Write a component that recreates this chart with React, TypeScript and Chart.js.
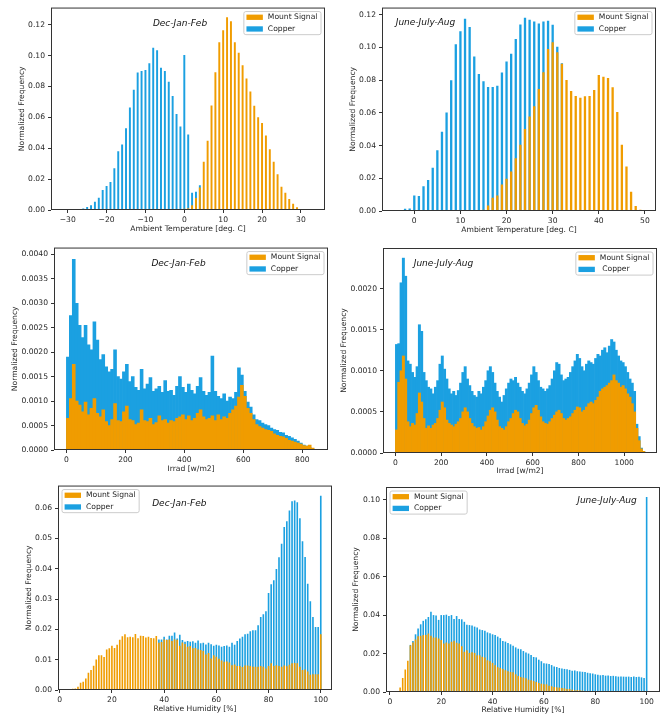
import React, { useEffect, useRef } from "react";
import { Chart, registerables } from "chart.js";

Chart.register(...registerables);

// ---------- colours & text ----------
const MOUNT_COLOR = "#f09c00";
const COPPER_COLOR = "#1ba0e1";
const TEXT_COLOR = "#262626";
const FONT_FAMILY = "'DejaVu Sans', sans-serif";
const FONT_SIZE = 7.6;

// ---------- Ambient temperature, Dec-Jan-Feb (1 deg bins) ----------
const TEMP_DJF_COPPER_START = -30;
const TEMP_DJF_COPPER = [
  0.0001, 0.0001, 0.0002, 0.0005, 0.0009, 0.0019, 0.003, 0.0054, 0.008, 0.0129,
  0.0155, 0.0182, 0.027, 0.038, 0.0424, 0.0529, 0.0664, 0.0778, 0.089, 0.09,
  0.0907, 0.095, 0.105, 0.1035, 0.0922, 0.09, 0.083, 0.0738, 0.0622, 0.054,
  0.1003, 0.0489, 0.0111, 0.0118, 0.0161,
];
const TEMP_DJF_MOUNT_START = 0;
const TEMP_DJF_MOUNT = [
  0.0008, 0.0012, 0.003, 0.0078, 0.0146, 0.0313, 0.0448, 0.0677, 0.0892, 0.1087,
  0.1164, 0.1248, 0.1222, 0.1087, 0.1018, 0.0937, 0.0851, 0.0767, 0.0675, 0.06,
  0.0564, 0.0483, 0.0393, 0.0312, 0.0231, 0.0151, 0.0112, 0.0071, 0.0041, 0.0017,
  0.0004, 0.0001,
];

// ---------- Ambient temperature, June-July-Aug ----------
const TEMP_JJA_COPPER_START = -2;
const TEMP_JJA_COPPER = [
  0.0014, 0.0016,
  0.0095, 0.0091, 0.0152, 0.019, 0.0264, 0.0371, 0.0484, 0.0602, 0.0799, 0.102,
  0.1099, 0.1176, 0.1125, 0.0945, 0.0837, 0.0793, 0.0758, 0.0758, 0.0766, 0.0847,
  0.0914, 0.0961, 0.1052, 0.1141, 0.1182, 0.117, 0.1159, 0.1147, 0.1159, 0.1163,
  0.1139, 0.1005, 0.0904,
];
const TEMP_JJA_MOUNT_START = 12;
const TEMP_JJA_MOUNT = [
  0.0001, 0.0002, 0.0004, 0.0008, 0.0034, 0.0081, 0.0095, 0.0162,
  0.0197, 0.0241, 0.0322, 0.0405, 0.0501, 0.0578, 0.0641, 0.0746, 0.0849, 0.0991,
  0.1032, 0.0971, 0.09, 0.0801, 0.0734, 0.0703, 0.0693, 0.0701, 0.0703, 0.074,
  0.0831, 0.0821, 0.0813, 0.0756, 0.0606, 0.0405, 0.0272, 0.0118, 0.003, 0.0008,
];

// ---------- Irradiance (10 W/m2 bins, first bin centred on 5) ----------
const IRRAD_BIN_START = 5;
const IRRAD_BIN_WIDTH = 10;
const IRRAD_DJF_COPPER = [
  0.0019, 0.00275, 0.0039, 0.003, 0.00255, 0.0023, 0.00255, 0.00215, 0.00205, 0.00262,
  0.00225, 0.00185, 0.00195, 0.0017, 0.0016, 0.00165, 0.00205, 0.0015, 0.00145, 0.0016,
  0.00175, 0.0014, 0.0015, 0.00128, 0.00122, 0.00165, 0.00125, 0.00135, 0.00148, 0.0012,
  0.00125, 0.0013, 0.00118, 0.00142, 0.0012, 0.00122, 0.00112, 0.0013, 0.0015, 0.00128,
  0.00118, 0.00135, 0.00122, 0.00115, 0.0013, 0.00148, 0.0012, 0.00112, 0.00118, 0.00192,
  0.0012, 0.0011, 0.00105, 0.00115, 0.001, 0.00108, 0.00105, 0.00118, 0.00168, 0.00153,
  0.0012, 0.00098, 0.00088, 0.00072, 0.00062, 0.0006, 0.00055, 0.00052, 0.0005, 0.00045,
  0.00042, 0.0004, 0.00036, 0.00035, 0.0003, 0.00028, 0.00025, 0.00022, 0.00018, 0.00014,
  0.0001, 0.00008, 0.00005, 0.00002,
];
const IRRAD_DJF_MOUNT = [
  0.00065, 0.00105, 0.00175, 0.001, 0.00092, 0.00078, 0.00098, 0.00072, 0.00085, 0.00105,
  0.00075, 0.00068, 0.00082, 0.00058, 0.0005, 0.00062, 0.00095, 0.0006, 0.00058, 0.00078,
  0.0009, 0.00062, 0.0006, 0.00052, 0.00055, 0.00082, 0.0006, 0.00058, 0.00065, 0.00052,
  0.00056, 0.0007, 0.0006, 0.00062, 0.00055, 0.0006, 0.00058, 0.00065, 0.00068, 0.00072,
  0.00062, 0.0007, 0.0006, 0.00065, 0.00075, 0.00082, 0.00068, 0.00062, 0.00065, 0.0007,
  0.0006, 0.00072, 0.00062, 0.00068, 0.00065, 0.00075, 0.00082, 0.0009, 0.00108, 0.00132,
  0.0011, 0.00085, 0.00075, 0.00062, 0.00052, 0.00048, 0.00045, 0.00042, 0.0004, 0.00038,
  0.00033, 0.0003, 0.00028, 0.00027, 0.00024, 0.0002, 0.00018, 0.00016, 0.00014, 0.00012,
  0.00009, 0.00008, 0.0001, 0.00004,
];
const IRRAD_JJA_COPPER = [
  0.00132, 0.00133, 0.00207, 0.00237, 0.00215, 0.00112, 0.00108, 0.00098, 0.00092, 0.00105,
  0.00156, 0.00148, 0.00098, 0.00088, 0.0008, 0.00078, 0.00072, 0.0008, 0.00088, 0.00108,
  0.00118, 0.00102, 0.0009, 0.00078, 0.00072, 0.00075, 0.0007, 0.00076, 0.00085, 0.00098,
  0.00105, 0.0009, 0.00082, 0.00075, 0.0007, 0.00068, 0.00075, 0.00072, 0.0008, 0.00088,
  0.001, 0.00105, 0.00098, 0.00085, 0.00075, 0.00068, 0.00062, 0.0007, 0.00078, 0.00085,
  0.0009, 0.00088, 0.00092, 0.00085, 0.0008, 0.00075, 0.00072, 0.00078, 0.00085, 0.00095,
  0.00105, 0.00098, 0.00088, 0.0008, 0.00078, 0.00075, 0.00078, 0.00082, 0.0009, 0.001,
  0.0011, 0.00108, 0.00095, 0.00088, 0.0009, 0.00092, 0.00098, 0.00105, 0.00112, 0.0012,
  0.00115, 0.00105, 0.001, 0.00108, 0.00112, 0.0011, 0.00108, 0.00115, 0.0012, 0.00118,
  0.00125, 0.00128, 0.00122, 0.0013, 0.00138, 0.00135, 0.00125, 0.00118, 0.00112, 0.0011,
  0.00105, 0.00098, 0.0009, 0.00085, 0.00075, 0.00035, 0.0002, 0.00006, 0.00002,
];
const IRRAD_JJA_MOUNT = [
  0.00028, 0.00086, 0.001, 0.00118, 0.0009, 0.00038, 0.00032, 0.00036, 0.00034, 0.00048,
  0.00073, 0.00062, 0.00042, 0.0003, 0.00033, 0.0003, 0.00034, 0.00036, 0.00042, 0.00052,
  0.00062, 0.00055, 0.0004, 0.00036, 0.00034, 0.00032, 0.00035, 0.00038, 0.00042, 0.0005,
  0.00055, 0.0005, 0.00042, 0.00036, 0.00032, 0.0003, 0.00031, 0.00028, 0.00032, 0.00038,
  0.00045, 0.00052, 0.00055, 0.0005, 0.0004, 0.00032, 0.0003, 0.00028, 0.00032, 0.00038,
  0.00042, 0.00048, 0.00052, 0.0005, 0.00042, 0.00036, 0.00033, 0.00035, 0.0004, 0.00048,
  0.00055, 0.00058, 0.00052, 0.00044, 0.00038, 0.00036, 0.00035, 0.00038, 0.00042, 0.00046,
  0.0005, 0.00052, 0.00048, 0.00042, 0.0004, 0.00042, 0.00044, 0.00048, 0.00052, 0.00056,
  0.00055, 0.0005, 0.00052, 0.00056, 0.0006, 0.00062, 0.0006, 0.00064, 0.00068, 0.00075,
  0.00078, 0.0008, 0.00082, 0.00085, 0.00088, 0.00095, 0.00088, 0.00085, 0.0008, 0.00082,
  0.00078, 0.00072, 0.00068, 0.0006, 0.0005, 0.0003, 0.00015, 0.00005, 0.00002,
];

// ---------- Relative humidity, Dec-Jan-Feb (1 % bins) ----------
const RH_DJF_MOUNT_START = 5;
const RH_DJF_MOUNT = [
  0.0004, 0.0005, 0.0011, 0.0024, 0.0027, 0.0038, 0.0057, 0.0066, 0.008, 0.0101,
  0.0115, 0.0115, 0.0109, 0.0134, 0.0138, 0.0146, 0.0139, 0.0149, 0.0166, 0.0177,
  0.0184, 0.0174, 0.0176, 0.0174, 0.0185, 0.0171, 0.0179, 0.0178, 0.0173, 0.0176,
  0.0172, 0.0171, 0.0178, 0.0156, 0.0158, 0.0167, 0.0165, 0.0167, 0.0162, 0.0167,
  0.0166, 0.0146, 0.0157, 0.0152, 0.0143, 0.0145, 0.0138, 0.0139, 0.0134, 0.0132,
  0.0129, 0.0117, 0.0122, 0.0104, 0.0115, 0.011, 0.0103, 0.0097, 0.0093, 0.0094,
  0.0091, 0.0082, 0.0084, 0.0079, 0.0079, 0.0076, 0.0081, 0.0081, 0.0079, 0.0077,
  0.0077, 0.0077, 0.0079, 0.0077, 0.0071, 0.0079, 0.0088, 0.0079, 0.0082, 0.0079,
  0.0077, 0.0081, 0.0078, 0.0083, 0.0088, 0.0089, 0.0088, 0.0077, 0.0066, 0.0068,
  0.0061, 0.005, 0.0052, 0.0052, 0.0052, 0.0184,
];
const RH_DJF_COPPER_START = 38;
const RH_DJF_COPPER = [
  0.0167, 0.0167, 0.0176, 0.0167, 0.0179, 0.0179, 0.019, 0.017, 0.0182, 0.0165,
  0.0159, 0.0162, 0.0159, 0.0161, 0.0156, 0.0163, 0.0154, 0.0156, 0.015, 0.0156,
  0.0151, 0.0146, 0.0149, 0.0147, 0.0143, 0.0145, 0.0147, 0.0143, 0.0156, 0.0149,
  0.0162, 0.017, 0.0176, 0.0184, 0.0186, 0.0194, 0.0197, 0.0197, 0.0214, 0.0241,
  0.025, 0.026, 0.032, 0.0349, 0.0362, 0.0399, 0.0438, 0.0483, 0.0538, 0.0557,
  0.0592, 0.0623, 0.0625, 0.062, 0.0567, 0.0491, 0.0439, 0.0351, 0.0293, 0.0241,
  0.0208, 0.0208, 0.0641,
];

// ---------- Relative humidity, June-July-Aug ----------
const RH_JJA_MOUNT_START = 4;
const RH_JJA_MOUNT = [
  0.0024, 0.0073, 0.0117, 0.0163, 0.0242, 0.0257, 0.0273, 0.029, 0.0292, 0.0296,
  0.0297, 0.0304, 0.0292, 0.0283, 0.0283, 0.0278, 0.027, 0.0252, 0.0257, 0.0252,
  0.0261, 0.0266, 0.0256, 0.0252, 0.0238, 0.0209, 0.0217, 0.0203, 0.0207, 0.0203,
  0.0191, 0.0191, 0.0183, 0.0179, 0.0165, 0.016, 0.0151, 0.0139, 0.0129, 0.0125,
  0.012, 0.0113, 0.0108, 0.0104, 0.0103, 0.0092, 0.0083, 0.0078, 0.0075, 0.0071,
  0.0064, 0.0061, 0.0057, 0.0052, 0.0047, 0.0043, 0.004, 0.004, 0.0033, 0.003,
  0.0026, 0.0024, 0.0023, 0.0021, 0.0019, 0.0016, 0.0016, 0.0012, 0.0009, 0.001,
  0.0009, 0.0007, 0.0005, 0.0005, 0.0003, 0.0003, 0.0002, 0.0002, 0.0001, 0.0001,
  0.0001, 0.0001,
];
const RH_JJA_COPPER_START = 8;
const RH_JJA_COPPER = [
  0.0245, 0.0265, 0.03, 0.033, 0.0352, 0.037, 0.0378, 0.039, 0.0417, 0.04,
  0.0398, 0.0375, 0.04, 0.04, 0.0402, 0.0395, 0.04, 0.038, 0.0395, 0.038,
  0.0378, 0.0365, 0.035, 0.0348, 0.0346, 0.034, 0.0335, 0.0325, 0.0322, 0.0318,
  0.031, 0.0305, 0.03, 0.0296, 0.0288, 0.028, 0.0265, 0.0262, 0.0255, 0.0248,
  0.024, 0.0232, 0.0225, 0.0222, 0.0213, 0.0205, 0.02, 0.0192, 0.0182, 0.018,
  0.0168, 0.016, 0.015, 0.0148, 0.0145, 0.014, 0.0132, 0.013, 0.0125, 0.0122,
  0.012, 0.0118, 0.0115, 0.011, 0.0112, 0.0108, 0.0106, 0.0105, 0.0104, 0.01,
  0.0098, 0.0096, 0.0092, 0.009, 0.0087, 0.0088, 0.0085, 0.0086, 0.0083, 0.0084,
  0.0082, 0.008, 0.0081, 0.008, 0.0079, 0.008, 0.0078, 0.008, 0.0078, 0.0079,
  0.0076, 0.0073, 0.1014,
];

// ---------- ticks ----------
const TEMP_DJF_X_TICKS = [-30, -20, -10, 0, 10, 20, 30];
const TEMP_JJA_X_TICKS = [0, 10, 20, 30, 40, 50];
const IRRAD_DJF_X_TICKS = [0, 200, 400, 600, 800];
const IRRAD_JJA_X_TICKS = [0, 200, 400, 600, 800, 1000];
const RH_X_TICKS = [0, 20, 40, 60, 80, 100];
const TEMP_Y_TICKS = [0, 0.02, 0.04, 0.06, 0.08, 0.1, 0.12];
const IRRAD_DJF_Y_TICKS = [0, 0.0005, 0.001, 0.0015, 0.002, 0.0025, 0.003, 0.0035, 0.004];
const IRRAD_JJA_Y_TICKS = [0, 0.0005, 0.001, 0.0015, 0.002];
const RH_DJF_Y_TICKS = [0, 0.01, 0.02, 0.03, 0.04, 0.05, 0.06];
const RH_JJA_Y_TICKS = [0, 0.02, 0.04, 0.06, 0.08, 0.1];

type Pt = { x: number; y: number };
const binned = (start: number, step: number, values: number[]): Pt[] =>
  values.map((y, i) => ({ x: start + i * step, y }));

interface PanelSpec {
  key: string;
  cell: [number, number, number, number];
  area: [number, number, number, number];
  xRange: [number, number];
  yMax: number;
  xTicks: number[];
  yTicks: number[];
  yDecimals: number;
  xTitle: string;
  yTitleX: number;
  xTitleY: number;
  season: string;
  seasonAt: [number, number];
  legendSide: "left" | "right";
  copperLabel: string;
  mount: Pt[];
  copper: Pt[];
  barFill: number;
}

const PANELS: PanelSpec[] = [
  {
    key: "temp-djf",
    cell: [0, 0, 333, 240],
    area: [51, 6, 325, 210],
    xRange: [-34.3, 36.2],
    yMax: 0.1311,
    xTicks: TEMP_DJF_X_TICKS,
    yTicks: TEMP_Y_TICKS,
    yDecimals: 2,
    xTitle: "Ambient Temperature [deg. C]",
    yTitleX: 22,
    xTitleY: 229,
    season: "Dec-Jan-Feb",
    seasonAt: [129, 16],
    legendSide: "right",
    copperLabel: "Copper",
    mount: binned(TEMP_DJF_MOUNT_START, 1, TEMP_DJF_MOUNT),
    copper: binned(TEMP_DJF_COPPER_START, 1, TEMP_DJF_COPPER),
    barFill: 0.5,
  },
  {
    key: "temp-jja",
    cell: [333, 0, 334, 240],
    area: [382, 6, 656, 211],
    xRange: [-7.0, 52.4],
    yMax: 0.1244,
    xTicks: TEMP_JJA_X_TICKS,
    yTicks: TEMP_Y_TICKS,
    yDecimals: 2,
    xTitle: "Ambient Temperature [deg. C]",
    yTitleX: 353,
    xTitleY: 230,
    season: "June-July-Aug",
    seasonAt: [43.5, 14.7],
    legendSide: "right",
    copperLabel: "Copper",
    mount: binned(TEMP_JJA_MOUNT_START, 1, TEMP_JJA_MOUNT),
    copper: binned(TEMP_JJA_COPPER_START, 1, TEMP_JJA_COPPER),
    barFill: 0.5,
  },
  {
    key: "irrad-djf",
    cell: [0, 240, 333, 238],
    area: [54, 245, 328, 450],
    xRange: [-42, 887],
    yMax: 0.00414,
    xTicks: IRRAD_DJF_X_TICKS,
    yTicks: IRRAD_DJF_Y_TICKS,
    yDecimals: 4,
    xTitle: "Irrad [w/m2]",
    yTitleX: 15,
    xTitleY: 469,
    season: "Dec-Jan-Feb",
    seasonAt: [124.5, 16],
    legendSide: "right",
    copperLabel: "Copper",
    mount: binned(IRRAD_BIN_START, IRRAD_BIN_WIDTH, IRRAD_DJF_MOUNT),
    copper: binned(IRRAD_BIN_START, IRRAD_BIN_WIDTH, IRRAD_DJF_COPPER),
    barFill: 1,
  },
  {
    key: "irrad-jja",
    cell: [333, 240, 334, 238],
    area: [383, 248, 657, 453],
    xRange: [-54, 1143],
    yMax: 0.002493,
    xTicks: IRRAD_JJA_X_TICKS,
    yTicks: IRRAD_JJA_Y_TICKS,
    yDecimals: 4,
    xTitle: "Irrad [w/m2]",
    yTitleX: 344,
    xTitleY: 471,
    season: "June-July-Aug",
    seasonAt: [60.5, 15.3],
    legendSide: "right",
    copperLabel: " Copper",
    mount: binned(IRRAD_BIN_START, IRRAD_BIN_WIDTH, IRRAD_JJA_MOUNT),
    copper: binned(IRRAD_BIN_START, IRRAD_BIN_WIDTH, IRRAD_JJA_COPPER),
    barFill: 1,
  },
  {
    key: "rh-djf",
    cell: [0, 478, 333, 240],
    area: [58, 485, 332, 690],
    xRange: [-0.65, 104.3],
    yMax: 0.06747,
    xTicks: RH_X_TICKS,
    yTicks: RH_DJF_Y_TICKS,
    yDecimals: 2,
    xTitle: "Relative Humidity [%]",
    yTitleX: 29,
    xTitleY: 709,
    season: "Dec-Jan-Feb",
    seasonAt: [121.3, 17.7],
    legendSide: "left",
    copperLabel: "Copper",
    mount: binned(RH_DJF_MOUNT_START, 1, RH_DJF_MOUNT),
    copper: binned(RH_DJF_COPPER_START, 1, RH_DJF_COPPER),
    barFill: 0.62,
  },
  {
    key: "rh-jja",
    cell: [333, 478, 334, 240],
    area: [386, 487, 660, 692],
    xRange: [-1.5, 105.2],
    yMax: 0.1066,
    xTicks: RH_X_TICKS,
    yTicks: RH_JJA_Y_TICKS,
    yDecimals: 2,
    xTitle: "Relative Humidity [%]",
    yTitleX: 356,
    xTitleY: 710,
    season: "June-July-Aug",
    seasonAt: [221, 14],
    legendSide: "left",
    copperLabel: "Copper",
    mount: binned(RH_JJA_MOUNT_START, 1, RH_JJA_MOUNT),
    copper: binned(RH_JJA_COPPER_START, 1, RH_JJA_COPPER),
    barFill: 0.62,
  },
];

// Axes frame, season caption and a boxed legend drawn inside the plot area.
function decorations(p: PanelSpec) {
  return {
    id: "decorations",
    afterDatasetsDraw(chart: any) {
      const { ctx, chartArea: a } = chart;
      ctx.save();

      ctx.strokeStyle = "#333333";
      ctx.lineWidth = 1;
      ctx.strokeRect(a.left + 0.5, a.top + 0.5, a.right - a.left - 1, a.bottom - a.top - 1);

      ctx.fillStyle = "#111111";
      ctx.font = `italic 9px ${FONT_FAMILY}`;
      ctx.textAlign = "center";
      ctx.textBaseline = "middle";
      ctx.fillText(p.season, a.left + p.seasonAt[0], a.top + p.seasonAt[1]);

      const entries = [
        { label: "Mount Signal", color: MOUNT_COLOR },
        { label: p.copperLabel, color: COPPER_COLOR },
      ];
      ctx.font = `${FONT_SIZE}px ${FONT_FAMILY}`;
      const textW = Math.max(...entries.map((e) => ctx.measureText(e.label).width));
      const pad = 2.6;
      const handleLen = 16.4;
      const handleGap = 5;
      const rowH = 6.2;
      const rowGap = 5.5;
      const boxW = pad + handleLen + handleGap + textW + pad + 1;
      const boxH = pad * 2 + rowH * 2 + rowGap;
      const inset = 4;
      const bx = p.legendSide === "right" ? a.right - inset - boxW : a.left + inset;
      const by = a.top + inset;

      ctx.beginPath();
      const r = 2;
      ctx.moveTo(bx + r, by);
      ctx.lineTo(bx + boxW - r, by);
      ctx.arcTo(bx + boxW, by, bx + boxW, by + r, r);
      ctx.lineTo(bx + boxW, by + boxH - r);
      ctx.arcTo(bx + boxW, by + boxH, bx + boxW - r, by + boxH, r);
      ctx.lineTo(bx + r, by + boxH);
      ctx.arcTo(bx, by + boxH, bx, by + boxH - r, r);
      ctx.lineTo(bx, by + r);
      ctx.arcTo(bx, by, bx + r, by, r);
      ctx.closePath();
      ctx.fillStyle = "rgba(255,255,255,0.8)";
      ctx.fill();
      ctx.strokeStyle = "#cccccc";
      ctx.stroke();

      entries.forEach((e, i) => {
        const cy = by + pad + rowH / 2 + i * (rowH + rowGap);
        ctx.fillStyle = e.color;
        ctx.fillRect(bx + pad, cy - 2.65, handleLen, 5.3);
        ctx.fillStyle = TEXT_COLOR;
        ctx.textAlign = "left";
        ctx.textBaseline = "middle";
        ctx.fillText(e.label, bx + pad + handleLen + handleGap, cy);
      });

      ctx.restore();
    },
  };
}

function buildConfig(p: PanelSpec) {
  const [cx, cy, cw, ch] = p.cell;
  const [L, T, R, B] = p.area;
  const lineH = FONT_SIZE * 1.2;
  const yAxisWidth = L - cx;
  const xAxisHeight = p.xTitleY + lineH / 2 + 1 - B;
  const font = { family: FONT_FAMILY, size: FONT_SIZE };
  const tickGrid = {
    display: true,
    drawOnChartArea: false,
    drawTicks: true,
    tickLength: 3,
    tickColor: "#333333",
    offset: false,
  };
  const barOpts = {
    grouped: false,
    barPercentage: p.barFill,
    categoryPercentage: 1,
    borderWidth: 0,
  };

  return {
    type: "bar",
    data: {
      datasets: [
        { label: "Mount Signal", data: p.mount, backgroundColor: MOUNT_COLOR, ...barOpts },
        { label: p.copperLabel, data: p.copper, backgroundColor: COPPER_COLOR, ...barOpts },
      ],
    },
    options: {
      responsive: false,
      animation: false,
      devicePixelRatio: 1,
      events: [],
      layout: {
        padding: {
          left: 0,
          top: T - cy,
          right: cx + cw - R,
          bottom: Math.max(0, cy + ch - B - xAxisHeight),
        },
      },
      plugins: {
        legend: { display: false },
        tooltip: { enabled: false },
        title: { display: false },
      },
      scales: {
        x: {
          type: "linear",
          min: p.xRange[0],
          max: p.xRange[1],
          offset: false,
          grid: tickGrid,
          border: { display: false },
          ticks: {
            autoSkip: false,
            maxRotation: 0,
            minRotation: 0,
            padding: 2,
            color: TEXT_COLOR,
            font,
            callback: (v: any) => {
              const n = Number(v);
              return n < 0 ? "\u2212" + Math.abs(n) : String(n);
            },
          },
          afterBuildTicks: (s: any) => {
            s.ticks = p.xTicks.map((value) => ({ value }));
          },
          afterFit: (s: any) => {
            s.height = xAxisHeight;
          },
          title: {
            display: true,
            text: p.xTitle,
            color: TEXT_COLOR,
            font,
            padding: { top: 0, bottom: 1 },
          },
        },
        y: {
          type: "linear",
          min: 0,
          max: p.yMax,
          grid: tickGrid,
          border: { display: false },
          ticks: {
            autoSkip: false,
            padding: 3,
            color: TEXT_COLOR,
            font,
            callback: (v: any) => Number(v).toFixed(p.yDecimals),
          },
          afterBuildTicks: (s: any) => {
            s.ticks = p.yTicks.map((value) => ({ value }));
          },
          afterFit: (s: any) => {
            s.width = yAxisWidth;
          },
          title: {
            display: true,
            text: "Normalized Frequency",
            color: TEXT_COLOR,
            font,
            padding: { top: p.yTitleX - cx - lineH / 2, bottom: 0 },
          },
        },
      },
    },
    plugins: [decorations(p)],
  };
}

function HistPanel({ spec }: { spec: PanelSpec }) {
  const ref = useRef<HTMLCanvasElement | null>(null);
  useEffect(() => {
    if (!ref.current) return;
    const chart = new Chart(ref.current, buildConfig(spec) as any);
    return () => chart.destroy();
  }, [spec]);
  const [x, y, w, h] = spec.cell;
  return (
    <canvas
      ref={ref}
      width={w}
      height={h}
      style={{ position: "absolute", left: x, top: y, width: w, height: h }}
    />
  );
}

export default function App() {
  return (
    <div
      style={{
        position: "absolute",
        left: 0,
        top: 0,
        width: 667,
        height: 718,
        background: "#ffffff",
        overflow: "hidden",
      }}
    >
      {PANELS.map((p) => (
        <HistPanel key={p.key} spec={p} />
      ))}
    </div>
  );
}
